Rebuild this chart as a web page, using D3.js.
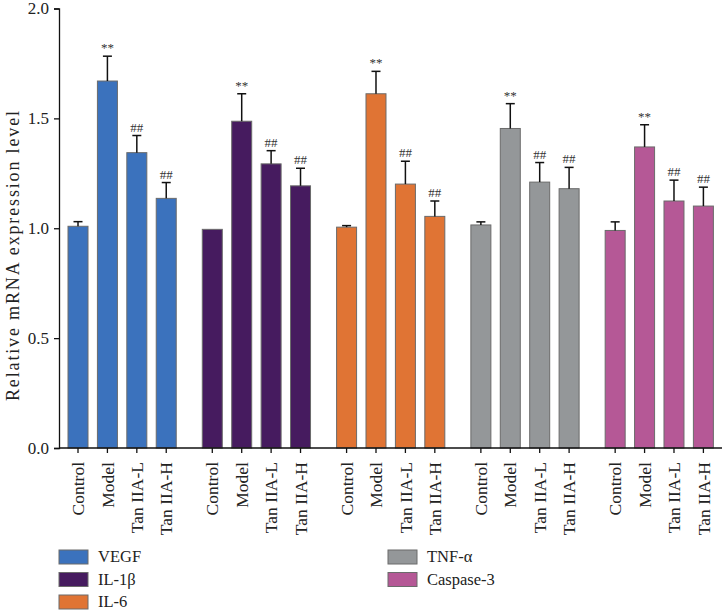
<!DOCTYPE html>
<html><head><meta charset="utf-8">
<script src="https://cdn.jsdelivr.net/npm/d3@7"></script>
<style>body{margin:0;background:#fff}svg{display:block}text{font-family:"Liberation Serif","Times New Roman",serif;fill:#222}</style>
</head><body><svg id="c" width="722" height="612"></svg>
<script>
const genes = ["VEGF","IL-1β","IL-6","TNF-α","Caspase-3"];
const conditions = ["Control","Model","Tan IIA-L","Tan IIA-H"];
const vegf   = [1.009, 1.670, 1.344, 1.136];
const il1b   = [0.995, 1.487, 1.293, 1.193];
const il6    = [1.005, 1.612, 1.201, 1.054];
const tnfa   = [1.015, 1.454, 1.210, 1.180];
const casp3  = [0.990, 1.370, 1.124, 1.101];
const vegfErr  = [0.021, 0.113, 0.078, 0.072];
const il1bErr  = [0.000, 0.125, 0.060, 0.080];
const il6Err   = [0.007, 0.102, 0.104, 0.070];
const tnfaErr  = [0.014, 0.113, 0.089, 0.097];
const casp3Err = [0.039, 0.101, 0.095, 0.086];
const marks = ["", "**", "##", "##"];
const yTicks = [0.0, 0.5, 1.0, 1.5, 2.0];
const colors = ["#3b72bd","#461b5f","#e07434","#949799","#b55896"];

const values = [vegf, il1b, il6, tnfa, casp3];
const errs = [vegfErr, il1bErr, il6Err, tnfaErr, casp3Err];
const data = [];
genes.forEach((g,i)=>conditions.forEach((c,j)=>data.push({g,c,i,j,v:values[i][j],e:errs[i][j],m:marks[j]})));

const svg = d3.select("#c");
const y = d3.scaleLinear().domain([0,2]).range([448,8.5]);
const x0 = d3.scaleBand().domain(genes).range([63.3,718.1]).paddingInner(0.124).paddingOuter(0);
const x1 = d3.scaleBand().domain(conditions).range([0,x0.bandwidth()]).paddingInner(0.32).paddingOuter(0.16);

// bars
svg.append("g").selectAll("rect").data(data).join("rect")
  .attr("x",d=>x0(d.g)+x1(d.c)).attr("width",x1.bandwidth())
  .attr("y",d=>y(d.v)).attr("height",d=>y(0)-y(d.v))
  .attr("fill",d=>colors[d.i]).attr("stroke","#6b6b6b").attr("stroke-width",1);

// error bars
const eg = svg.append("g").attr("stroke","#111").attr("stroke-width",1.5);
data.filter(d=>d.e>0).forEach(d=>{
  const cx = x0(d.g)+x1(d.c)+x1.bandwidth()/2;
  eg.append("line").attr("x1",cx).attr("x2",cx).attr("y1",y(d.v)).attr("y2",y(d.v+d.e));
  eg.append("line").attr("x1",cx-4.5).attr("x2",cx+4.5).attr("y1",y(d.v+d.e)).attr("y2",y(d.v+d.e));
});
// significance marks
svg.append("g").selectAll("text").data(data.filter(d=>d.m)).join("text")
  .attr("x",d=>x0(d.g)+x1(d.c)+x1.bandwidth()/2).attr("y",d=>y(d.v+d.e)-4)
  .attr("text-anchor","middle").style("font-size","13px").style("fill","#333")
  .text(d=>d.m);

// y axis
const ya = svg.append("g").attr("transform","translate(59,0)")
  .call(d3.axisLeft(y).tickValues(yTicks).tickFormat(d3.format(".1f")).tickSize(5).tickPadding(5));
ya.select(".domain").attr("stroke","#111").attr("stroke-width",1.3);
ya.selectAll(".tick line").attr("stroke","#111").attr("stroke-width",1.3);
ya.selectAll("text").style("font-size","17px").style("font-family","Liberation Serif").attr("fill","#222");

// x axis
const xa = svg.append("g").attr("transform","translate(0,448)");
xa.append("line").attr("x1",59).attr("x2",722).attr("stroke","#111").attr("stroke-width",1.3);
const xt = xa.selectAll("g").data(data).join("g")
  .attr("transform",d=>`translate(${x0(d.g)+x1(d.c)+x1.bandwidth()/2},0)`);
xt.append("line").attr("y1",0).attr("y2",5).attr("stroke","#111").attr("stroke-width",1.3);
xt.append("text").attr("transform","rotate(-90)").attr("x",-14).attr("dy","0.35em")
  .attr("text-anchor","end").style("font-size","17.5px").text(d=>d.c);

// y label
svg.append("text").attr("transform","translate(13,256) rotate(-90)")
  .attr("text-anchor","middle").attr("dy","0.35em").style("font-size","18px")
  .attr("textLength",290).attr("lengthAdjust","spacing")
  .text("Relative mRNA expression level");

// legend
const lg = svg.append("g");
genes.forEach((g,i)=>{
  const col = i<3?0:1, row = i<3?i:i-3;
  const lx = col===0?59:388, ly = 550+row*22.5;
  lg.append("rect").attr("x",lx).attr("y",ly).attr("width",29).attr("height",14)
    .attr("fill",colors[i]).attr("stroke","#6b6b6b").attr("stroke-width",1);
  lg.append("text").attr("x",lx+39).attr("y",ly+7).attr("dy","0.33em").style("font-size","16.5px").text(g);
});
</script></body></html>
